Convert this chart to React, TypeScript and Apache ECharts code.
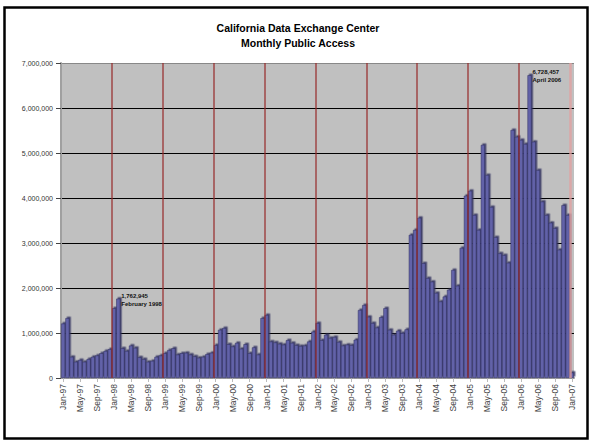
import React, { useEffect, useRef } from "react";
import * as echarts from "echarts";

const FONT = "'Liberation Sans', Arial, sans-serif";

const titleLines = ["California Data Exchange Center", "Monthly Public Access"];
const monthNames = ["Jan", "Feb", "Mar", "Apr", "May", "Jun", "Jul", "Aug", "Sep", "Oct", "Nov", "Dec"];
const yearLabels = ["97", "98", "99", "00", "01", "02", "03", "04", "05", "06", "07"];

// monthly public access, in millions
const v1997 = [1.21, 1.33, 0.47, 0.36, 0.40, 0.36, 0.42, 0.47, 0.50, 0.55, 0.60, 0.64];
const v1998 = [1.55, 1.762945, 0.66, 0.60, 0.72, 0.67, 0.46, 0.42, 0.36, 0.38, 0.47, 0.50];
const v1999 = [0.55, 0.62, 0.66, 0.52, 0.55, 0.56, 0.52, 0.48, 0.45, 0.47, 0.53, 0.56];
const v2000 = [0.73, 1.07, 1.11, 0.75, 0.70, 0.78, 0.65, 0.75, 0.55, 0.68, 0.52, 1.33];
const v2001 = [1.40, 0.81, 0.79, 0.76, 0.74, 0.84, 0.78, 0.73, 0.71, 0.72, 0.81, 1.03];
const v2002 = [1.22, 0.84, 0.96, 0.89, 0.91, 0.80, 0.72, 0.74, 0.73, 0.85, 1.51, 1.62];
const v2003 = [1.36, 1.22, 1.12, 1.35, 1.55, 1.07, 0.96, 1.05, 1.00, 1.08, 3.18, 3.29];
const v2004 = [3.56, 2.55, 2.22, 2.14, 1.89, 1.70, 1.81, 1.96, 2.40, 2.05, 2.89, 4.05];
const v2005 = [4.16, 3.62, 3.29, 5.18, 4.51, 3.80, 3.13, 2.77, 2.73, 2.56, 5.51, 5.36];
const v2006 = [5.29, 5.20, 6.728457, 5.25, 4.62, 3.92, 3.62, 3.45, 3.33, 2.85, 3.84, 3.62];
const v2007 = [0.12];

const yearly = [v1997, v1998, v1999, v2000, v2001, v2002, v2003, v2004, v2005, v2006, v2007];

const annotations = [
  { category: "Feb-98", text: "February 1998" },
  { category: "Mar-06", text: "April 2006" },
];

const yTicks = [0, 1000000, 2000000, 3000000, 4000000, 5000000, 6000000, 7000000];

export default function App() {
  const ref = useRef<HTMLDivElement>(null);

  useEffect(() => {
    if (!ref.current) return;
    const chart = echarts.init(ref.current, undefined, { renderer: "svg" });

    const categories: string[] = [];
    const values: number[] = [];
    yearly.forEach((arr, yi) => {
      arr.forEach((v, mi) => {
        categories.push(`${monthNames[mi]}-${yearLabels[yi]}`);
        values.push(Math.round(v * 1000000));
      });
    });
    const janIdx = categories
      .map((c, i) => (c.startsWith("Jan") && i > 0 ? i : -1))
      .filter((i) => i > 0);
    const fmt = (n: number) => Number(n).toLocaleString("en-US");

    const markData = annotations.map((a) => {
      const idx = categories.indexOf(a.category);
      return {
        name: a.text,
        coord: [a.category, values[idx]],
        value: values[idx],
      };
    });

    chart.setOption({
      animation: false,
      backgroundColor: "#ffffff",
      textStyle: { fontFamily: FONT },
      title: {
        text: titleLines.join("\n"),
        left: 298,
        textAlign: "center",
        top: 20,
        padding: 0,
        textStyle: {
          fontFamily: FONT,
          fontSize: 10.5,
          fontWeight: "bold",
          color: "#000",
          lineHeight: 15,
        },
      },
      graphic: [
        {
          type: "rect",
          shape: { x: 4.5, y: 7.5, width: 583, height: 431 },
          style: { fill: "none", stroke: "#000", lineWidth: 2.5 },
          silent: true,
        },
      ],
      grid: {
        left: 61,
        right: 18,
        top: 63,
        bottom: 66,
        show: true,
        backgroundColor: "#c0c0c0",
        borderWidth: 0,
      },
      xAxis: [
        {
          type: "category",
          data: categories,
          boundaryGap: true,
          axisLine: { show: true, lineStyle: { color: "#a0a0a0", width: 2 } },
          axisTick: {
            show: true,
            interval: 3,
            alignWithLabel: true,
            length: 4,
            lineStyle: { color: "#bbbbbb" },
          },
          axisLabel: {
            interval: 3,
            rotate: 90,
            fontSize: 8.5,
            color: "#444",
            margin: 6,
            fontFamily: FONT,
          },
          splitLine: { show: false },
        },
        {
          type: "value",
          min: 0,
          max: categories.length,
          show: false,
          position: "bottom",
        },
      ],
      yAxis: {
        type: "value",
        min: 0,
        max: 7000000,
        interval: 1000000,
        axisLine: { show: true, lineStyle: { color: "#a0a0a0", width: 2 } },
        axisTick: { show: true, length: 5, lineStyle: { color: "#444" } },
        axisLabel: {
          fontSize: 7,
          color: "#333",
          margin: 8,
          fontFamily: FONT,
          formatter: (v: number) => (yTicks.includes(v) ? fmt(v) : ""),
        },
        splitLine: {
          show: true,
          lineStyle: {
            color: ["#999", "#000", "#000", "#000", "#000", "#000", "#000", "#888"],
            width: 1,
          },
        },
      },
      series: [
        {
          type: "bar",
          data: values,
          barCategoryGap: "6%",
          itemStyle: {
            color: "#6262a8",
            borderColor: "#2e2e60",
            borderWidth: 0.5,
            shadowColor: "rgba(50,50,95,0.85)",
            shadowOffsetX: 1.5,
            shadowOffsetY: -1.5,
            shadowBlur: 0,
          },
          markPoint: {
            symbol: "circle",
            symbolSize: 0,
            silent: true,
            data: markData,
            label: {
              show: true,
              position: "right",
              distance: 3,
              offset: [0, 1],
              fontSize: 6,
              fontWeight: "bold",
              color: "#111",
              lineHeight: 8,
              fontFamily: FONT,
              formatter: (p: any) => `${fmt(p.value)}\n${p.name}`,
            },
          },
        },
        {
          type: "line",
          xAxisIndex: 1,
          data: [[0, 0]],
          showSymbol: false,
          symbolSize: 0,
          lineStyle: { opacity: 0 },
          silent: true,
          z: 5,
          markLine: {
            silent: true,
            symbol: ["none", "none"],
            label: { show: false },
            lineStyle: { color: "rgba(150,40,40,0.6)", width: 2, type: "solid" },
            data: janIdx.map((i) => ({
              xAxis: i,
              lineStyle:
                i === categories.length - 1
                  ? { color: "rgba(225,160,160,0.8)", width: 2.5, type: "solid" }
                  : undefined,
            })),
          },
        },
      ],
    });

    return () => chart.dispose();
  }, []);

  return (
    <div
      ref={ref}
      style={{ position: "absolute", left: 0, top: 0, width: 592, height: 444, background: "#fff" }}
    />
  );
}
